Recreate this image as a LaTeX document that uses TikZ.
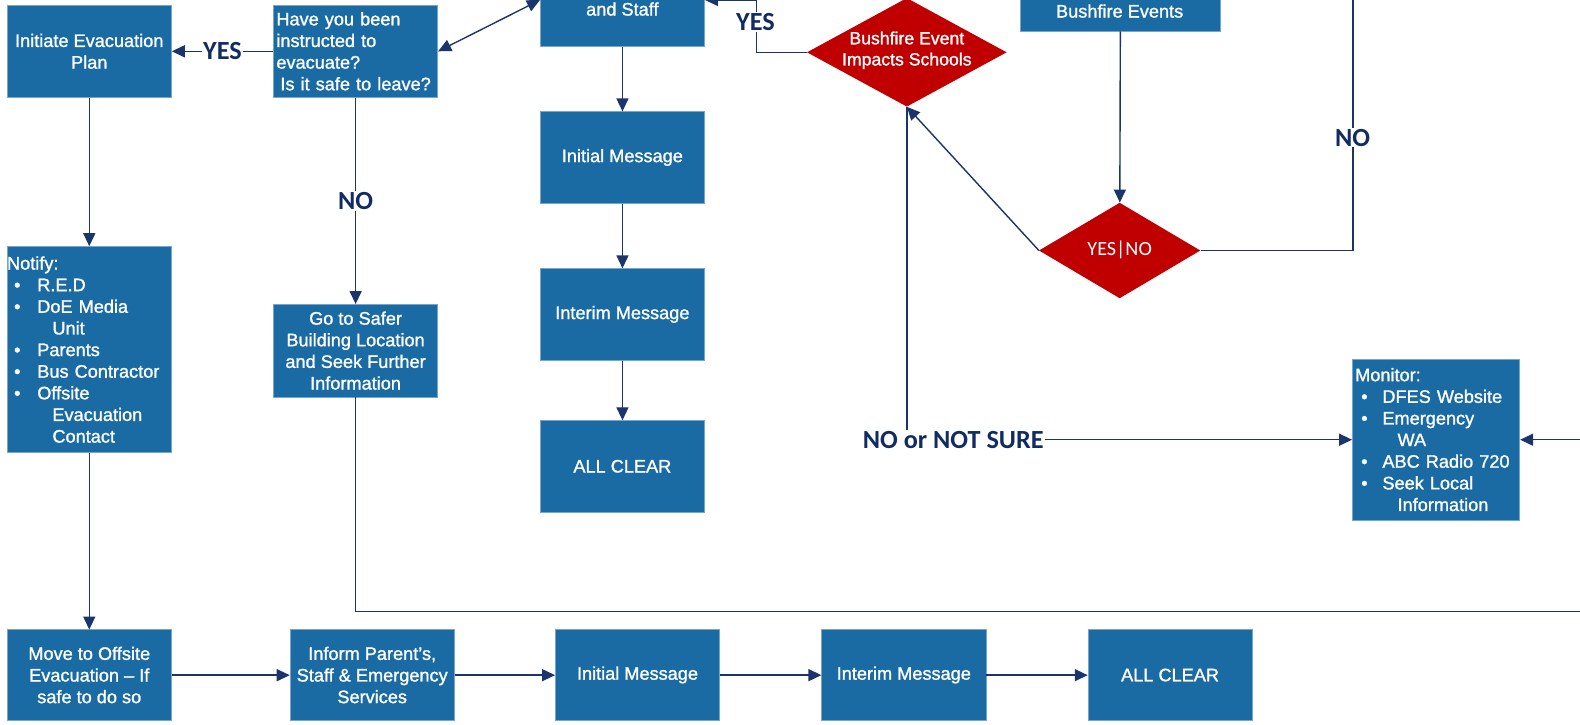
\documentclass[tikz,border=0pt]{standalone}
\usepackage{fontspec}
\setmainfont{Liberation Sans}[FakeBold=1.2]
\newfontfamily\lblfont{Carlito}
\usetikzlibrary{arrows.meta,shapes.geometric,calc}
\definecolor{boxblue}{RGB}{26,107,163}
\definecolor{boxedge}{RGB}{120,165,205}
\definecolor{linenavy}{RGB}{28,52,108}
\definecolor{lblnavy}{RGB}{18,44,98}
\definecolor{dred}{RGB}{192,0,0}
\newcommand\nbul{\makebox[30pt][l]{\hspace*{7pt}•}}
\newcommand\nind{\hspace*{45pt}}
\newcommand\mbul{\makebox[27pt][l]{\hspace*{6pt}•}}
\newcommand\mind{\hspace*{42pt}}
\begin{document}
\begin{tikzpicture}[x=1pt,y=-1pt,
  box/.style={rectangle,fill=boxblue,draw=boxedge,line width=0.6pt,
    minimum width=163pt,minimum height=92pt,inner sep=2pt,text=white,
    align=center,font=\fontsize{18}{21.5}\selectfont},
  btext/.style={text=white,inner sep=0pt,align=center,font=\fontsize{18}{21.5}\selectfont},
  dia/.style={diamond,fill=dred,draw=none,inner sep=0pt},
  arr/.style={draw=linenavy,line width=1.4pt,-{Triangle[length=13pt,width=12pt]}},
  ln/.style={draw=linenavy,line width=1.4pt},
  lbl/.style={font=\lblfont\bfseries\fontsize{26}{28}\selectfont,text=lblnavy,fill=white,inner sep=1pt}]
\useasboundingbox (0,0) rectangle (1580,724);
\begin{scope}
\clip (0,0) rectangle (1580,724);
\fill[white] (0,0) rectangle (1580,724);
\begin{scope}[xscale=1.0087,yscale=1.006,transform shape]

% top-left column
\node[box] (init) at (88.5,51) {Initiate Evacuation\\Plan};
\node[box,align=left,text width=157pt,inner xsep=3pt] (q) at (352.5,51)
  {Have you been\\instructed to\\evacuate?\\\hspace*{4pt}Is it safe to leave?};
\node[box,minimum height=205pt,align=left,text width=163pt,inner sep=0pt] (notify) at (88.5,347.5)
  {Notify:\\\nbul R.E.D\\\nbul DoE Media\\\nind Unit\\\nbul Parents\\\nbul Bus Contractor\\\nbul Offsite\\\nind Evacuation\\\nind Contact};
\node[box] (safer) at (352.5,348.5) {Go to Safer\\Building Location\\and Seek Further\\Information};

% middle column
\node[box] (staff) at (617,0) {};
\node[btext] (stafft) at (617,9) {and Staff};
\node[box,minimum height=91pt] (im1) at (617,156.5) {Initial Message};
\node[box,minimum height=91pt] (int1) at (617,312.5) {Interim Message};
\node[box,minimum height=91pt] (ac1) at (617,463.5) {ALL CLEAR};

% diamonds and right part
\node[dia,minimum width=198pt,minimum height=108pt] (d1) at (899,52) {};
\node[btext,font=\fontsize{17.5}{21}\selectfont] (d1t) at (899,50) {Bushfire Event\\Impacts Schools};
\node[box,minimum width=199pt] (bfe) at (1110.5,-15) {};
\node[btext] (bfet) at (1110,11) {Bushfire Events};
\node[dia,minimum width=160pt,minimum height=95pt] (d2) at (1110,249) {};
\node[btext,font=\lblfont\fontsize{20}{22}\selectfont] (d2t) at (1110,248) {YES|NO};
\node[box,minimum height=160pt,align=left,text width=160pt,inner xsep=3pt,inner ysep=0pt] (mon) at (1423.5,437)
  {Monitor:\\\mbul DFES Website\\\mbul Emergency\\\mind WA\\\mbul ABC Radio 720\\\mbul Seek Local\\\mind Information};
\node[lbl] (nons) at (945,437) {NO or NOT SURE};

% bottom row
\node[box,minimum height=90pt] (move) at (88.5,671) {Move to Offsite\\Evacuation – If\\safe to do so};
\node[box,minimum height=90pt] (inform) at (369,671) {Inform Parent's,\\Staff \& Emergency\\Services};
\node[box,minimum height=90pt] (im2) at (632,671) {Initial Message};
\node[box,minimum height=90pt] (int2) at (896,671) {Interim Message};
\node[box,minimum height=90pt] (ac2) at (1160,671) {ALL CLEAR};

% free ends
\coordinate (yesc) at (750,0);
\coordinate (notop) at (1341,-5);
\coordinate (rin) at (1580,437);
\coordinate (rbot) at (1580,608);

% connectors
\draw[arr] (q.west) -- node[lbl] (yes1) {YES} (init.east);
\draw[arr] (q.south) -- node[lbl] (no1) {NO} (safer.north);
\draw[ln,{Triangle[length=13pt,width=12pt]}-{Triangle[length=13pt,width=12pt]}] (q.east) -- (staff.west);
\draw[arr] (init.south) -- (notify.north);
\draw[arr] (notify.south) -- (move.north);
\draw[arr] (staff.south) -- (im1.north);
\draw[arr] (im1.south) -- (int1.north);
\draw[arr] (int1.south) -- (ac1.north);
\draw[arr] (d1.west) -| (yesc) -- (staff.east);
\node[lbl] (yes2) at (749,22) {YES};
\draw[arr] (bfe.south) -- (d2.north);
\draw[ln] (d2.east) -| (notop);
\node[lbl] (no2) at (1341,137) {NO};
\draw[arr] (d2.west) -- (d1.south);
\draw[ln] (d1.south |- nons.north) -- (d1.south);
\draw[arr] (nons.east) -- (mon.west);
\draw[arr] (rin) -- (mon.east);
\draw[ln] (safer.south) |- (rbot);
\draw[arr] (move.east) -- (inform.west);
\draw[arr] (inform.east) -- (im2.west);
\draw[arr] (im2.east) -- (int2.west);
\draw[arr] (int2.east) -- (ac2.west);
\end{scope}
\end{scope}
\end{tikzpicture}
\end{document}
